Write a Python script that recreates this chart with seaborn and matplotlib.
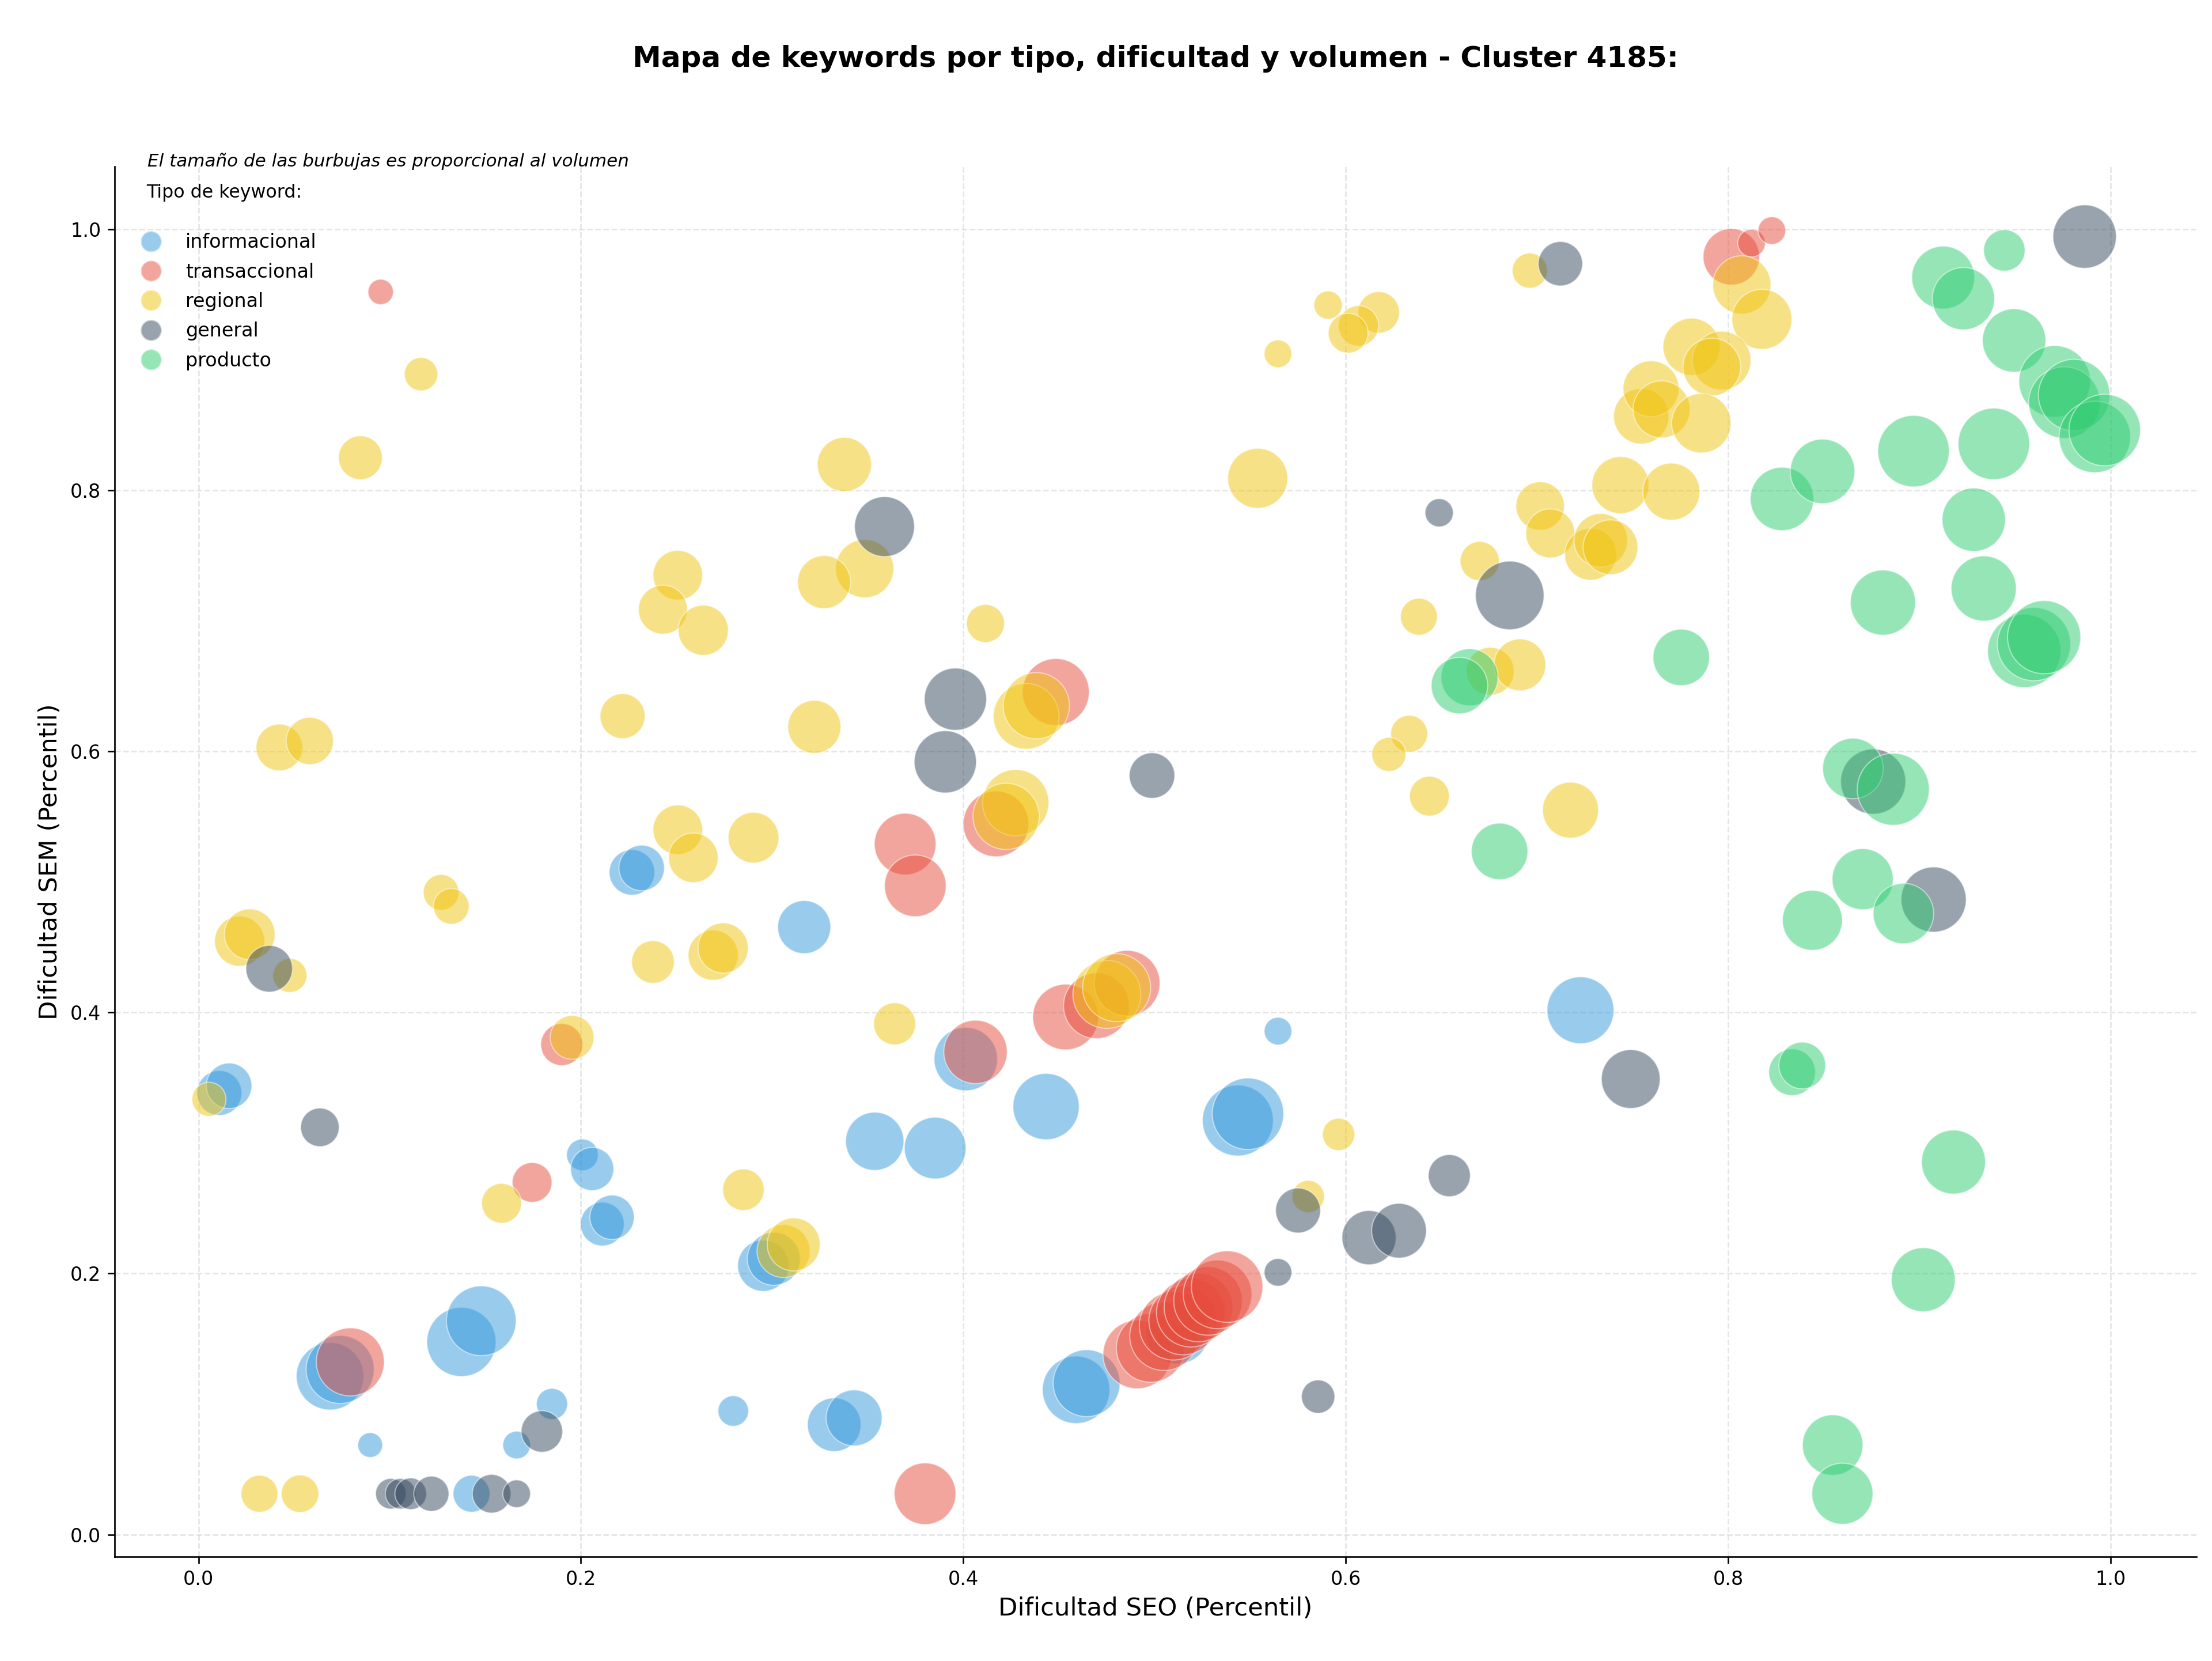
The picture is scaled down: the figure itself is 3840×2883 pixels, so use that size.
import matplotlib
matplotlib.use("Agg")
import matplotlib.pyplot as plt
import seaborn as sns
import pandas as pd
from matplotlib.lines import Line2D

# ---------------- data ----------------
tipos = ["informacional", "transaccional", "regional", "general", "producto"]
colores = ["#3498db", "#e74c3c", "#f1c40f", "#34495e", "#2ecc71"]

info_seo = [0.0109, 0.0160, 0.2267, 0.2318, 0.3168, 0.2008, 0.2059, 0.2112, 0.2163, 0.0688,
            0.0741, 0.1375, 0.1479, 0.0898, 0.1849, 0.1664, 0.1428, 0.2797, 0.2954, 0.3009,
            0.3325, 0.3429, 0.3537, 0.3853, 0.4013, 0.4433, 0.4590, 0.4645, 0.5436, 0.5489,
            0.5646, 0.7228, 0.5120]
info_sem = [0.3383, 0.3438, 0.5073, 0.5107, 0.4654, 0.2909, 0.2801, 0.2379, 0.2431, 0.1213,
            0.1265, 0.1476, 0.1638, 0.0686, 0.1001, 0.0686, 0.0313, 0.0947, 0.2060, 0.2113,
            0.0842, 0.0894, 0.3013, 0.2961, 0.3643, 0.3279, 0.1109, 0.1160, 0.3172, 0.3224,
            0.3857, 0.4017, 0.1550]
info_vol = [608, 624, 624, 624, 846, 302, 562, 578, 593, 1369,
            1392, 1440, 1464, 185, 292, 230, 410, 281, 792, 846,
            865, 941, 1020, 1145, 1210, 1322, 1369, 1346, 1513, 1538,
            230, 1346, 1210]

trans_seo = [0.0953, 0.8017, 0.8123, 0.8229, 0.4484, 0.3696, 0.3749, 0.4171, 0.1900, 0.1745,
             0.0794, 0.4064, 0.4535, 0.4696, 0.4857, 0.3800,
             0.4910, 0.4980, 0.5050, 0.5100, 0.5150, 0.5190, 0.5230, 0.5280, 0.5330, 0.5380]
trans_sem = [0.9520, 0.9789, 0.9894, 0.9990, 0.6455, 0.5290, 0.4970, 0.5445, 0.3754, 0.2698,
             0.1323, 0.3698, 0.3965, 0.4051, 0.4224, 0.0313,
             0.1380, 0.1430, 0.1520, 0.1600, 0.1640, 0.1700, 0.1740, 0.1790, 0.1840, 0.1900]
trans_vol = [194, 960, 230, 230, 1346, 1145, 1145, 1300, 533, 476,
             1392, 1210, 1300, 1300, 1300, 1145,
             1416, 1416, 1416, 1416, 1416, 1416, 1416, 1416, 1416, 1538]

reg_seo = [0.1164, 0.0847, 0.0423, 0.0582, 0.2218, 0.3378, 0.3484, 0.3272, 0.2507, 0.2429,
           0.2640, 0.4116, 0.3221, 0.4329, 0.4382, 0.4274, 0.4224, 0.2507, 0.2588, 0.2903,
           0.6963, 0.5908, 0.6173, 0.6067, 0.6013, 0.5646, 0.5540, 0.7017, 0.7070, 0.7437,
           0.7703, 0.7281, 0.7334, 0.7385, 0.6701, 0.6383, 0.7546, 0.7597, 0.7652, 0.6756,
           0.6911, 0.6332, 0.6226, 0.6438, 0.7176, 0.8072, 0.8177, 0.7809, 0.7966, 0.7915,
           0.7860, 0.5963, 0.5804, 0.3060, 0.3113, 0.2850, 0.3641, 0.4751, 0.4802, 0.2377,
           0.2692, 0.2744, 0.0215, 0.0268, 0.0478, 0.1269, 0.1322, 0.1954, 0.0055, 0.1585,
           0.0319, 0.0531]
reg_sem = [0.8890, 0.8250, 0.6030, 0.6080, 0.6270, 0.8198, 0.7400, 0.7297, 0.7350, 0.7086,
           0.6928, 0.6980, 0.6188, 0.6269, 0.6350, 0.5607, 0.5502, 0.5400, 0.5185, 0.5339,
           0.9683, 0.9419, 0.9363, 0.9260, 0.9204, 0.9046, 0.8092, 0.7880, 0.7670, 0.8040,
           0.7990, 0.7510, 0.7617, 0.7564, 0.7458, 0.7032, 0.8567, 0.8778, 0.8620, 0.6614,
           0.6663, 0.6135, 0.5977, 0.5657, 0.5550, 0.9574, 0.9310, 0.9100, 0.8994, 0.8945,
           0.8514, 0.3066, 0.2590, 0.2172, 0.2223, 0.2642, 0.3913, 0.4138, 0.4190, 0.4387,
           0.4439, 0.4494, 0.4546, 0.4599, 0.4284, 0.4920, 0.4813, 0.3809, 0.3335, 0.2538,
           0.0313, 0.0313]
reg_vol = [336, 578, 656, 672, 608, 884, 1020, 846, 740, 722,
           757, 436, 846, 1300, 1322, 1322, 1322, 740, 740, 774,
           372, 240, 518, 490, 476, 230, 1082, 706, 722, 980,
           980, 810, 865, 902, 462, 410, 922, 941, 980, 689,
           810, 410, 348, 476, 941, 1020, 1082, 980, 1040, 1000,
           1061, 314, 314, 846, 846, 518, 533, 1392, 1392, 548,
           757, 757, 757, 774, 348, 384, 384, 578, 348, 476,
           410, 422]

gen_seo = [0.0370, 0.0635, 0.1006, 0.1057, 0.1110, 0.1218, 0.1533, 0.1664, 0.1796, 0.3588,
           0.3959, 0.3906, 0.4987, 0.5646, 0.5751, 0.5856, 0.6122, 0.6279, 0.6489, 0.6542,
           0.6858, 0.7123, 0.7491, 0.8759, 0.9075, 0.9865]
gen_sem = [0.4335, 0.3120, 0.0313, 0.0313, 0.0313, 0.0313, 0.0313, 0.0313, 0.0790, 0.7722,
           0.6400, 0.5920, 0.5815, 0.2009, 0.2483, 0.1057, 0.2275, 0.2328, 0.7828, 0.2750,
           0.7195, 0.9736, 0.3490, 0.5769, 0.4865, 0.9944]
gen_vol = [656, 449, 281, 281, 302, 372, 449, 230, 518, 1082,
           1166, 1166, 624, 230, 608, 336, 884, 902, 240, 533,
           1416, 593, 1040, 1277, 1277, 1210]

prod_seo = [0.6648, 0.6595, 0.6805, 0.7755, 0.8282, 0.8335, 0.8388, 0.8441, 0.8494, 0.8547,
            0.8598, 0.8653, 0.8704, 0.8810, 0.8864, 0.8917, 0.8970, 0.9021, 0.9125, 0.9231,
            0.9179, 0.9285, 0.9337, 0.9390, 0.9445, 0.9496, 0.9549, 0.9600, 0.9653, 0.9708,
            0.9759, 0.9810, 0.9918, 0.9970]
prod_sem = [0.6568, 0.6504, 0.5234, 0.6720, 0.7934, 0.3542, 0.3594, 0.4706, 0.8145, 0.0686,
            0.0313, 0.5869, 0.5021, 0.7140, 0.5710, 0.4758, 0.8300, 0.1953, 0.9630, 0.9468,
            0.2854, 0.7775, 0.7248, 0.8356, 0.9838, 0.9148, 0.6769, 0.6822, 0.6875, 0.8835,
            0.8672, 0.8730, 0.8409, 0.8462]
prod_vol = [980, 960, 960, 960, 1210, 656, 656, 1082, 1254, 1102,
            1124, 1102, 1124, 1277, 1562, 1102, 1538, 1232, 1188, 1166,
            1232, 1210, 1277, 1538, 518, 1210, 1613, 1613, 1613, 1538,
            1538, 1538, 1538, 1538]

titulo = "Mapa de keywords por tipo, dificultad y volumen - Cluster 4185:"
nota = "El tamaño de las burbujas es proporcional al volumen"
x_label = "Dificultad SEO (Percentil)"
y_label = "Dificultad SEM (Percentil)"
leyenda_titulo = "Tipo de keyword:\n"

# ---------------- table ----------------
frames = []
for t, xs, ys, vs in zip(tipos,
                         [info_seo, trans_seo, reg_seo, gen_seo, prod_seo],
                         [info_sem, trans_sem, reg_sem, gen_sem, prod_sem],
                         [info_vol, trans_vol, reg_vol, gen_vol, prod_vol]):
    frames.append(pd.DataFrame({"seo": xs, "sem": ys, "volumen": vs, "tipo": t}))
df = pd.concat(frames, ignore_index=True)

# ---------------- plot ----------------
fig = plt.figure(figsize=(16, 12.0125), dpi=240)
ax = fig.add_axes([0.0517, 0.0629, 0.9413, 0.8368])

vmin, vmax = df["volumen"].min(), df["volumen"].max()
sns.scatterplot(data=df, x="seo", y="sem", hue="tipo", hue_order=tipos,
                palette=dict(zip(tipos, colores)), size="volumen",
                sizes=(0.9 * vmin, 0.9 * vmax), size_norm=(vmin, vmax),
                alpha=0.5, edgecolor="white", linewidth=0.6, legend=False, ax=ax)

ax.set_xlim(-0.044, 1.045)
ax.set_ylim(-0.0168, 1.048)
ax.set_xticks([0.0, 0.2, 0.4, 0.6, 0.8, 1.0])
ax.set_yticks([0.0, 0.2, 0.4, 0.6, 0.8, 1.0])
ax.tick_params(labelsize=10)
ax.grid(True, linestyle="--", color="#cccccc", alpha=0.5, linewidth=0.8)
ax.set_axisbelow(True)
for s in ["top", "right"]:
    ax.spines[s].set_visible(False)

ax.set_xlabel(x_label, fontsize=13)
ax.set_ylabel(y_label, fontsize=13)
ax.set_title(titulo, fontsize=15, fontweight="bold", pad=52)

ax.text(0.016, 1.004, nota, transform=ax.transAxes, fontsize=9.3,
        style="italic", va="center", ha="left")

handles = [Line2D([0], [0], marker="o", linestyle="", markersize=11,
                  markerfacecolor=c, markeredgecolor="white", alpha=0.5, label=t)
           for t, c in zip(tipos, colores)]
leg = ax.legend(handles=handles, loc="upper left", frameon=False,
                title=leyenda_titulo, fontsize=10, title_fontsize=9.5,
                labelspacing=0.55)

fig.savefig("out.png", dpi=240)
